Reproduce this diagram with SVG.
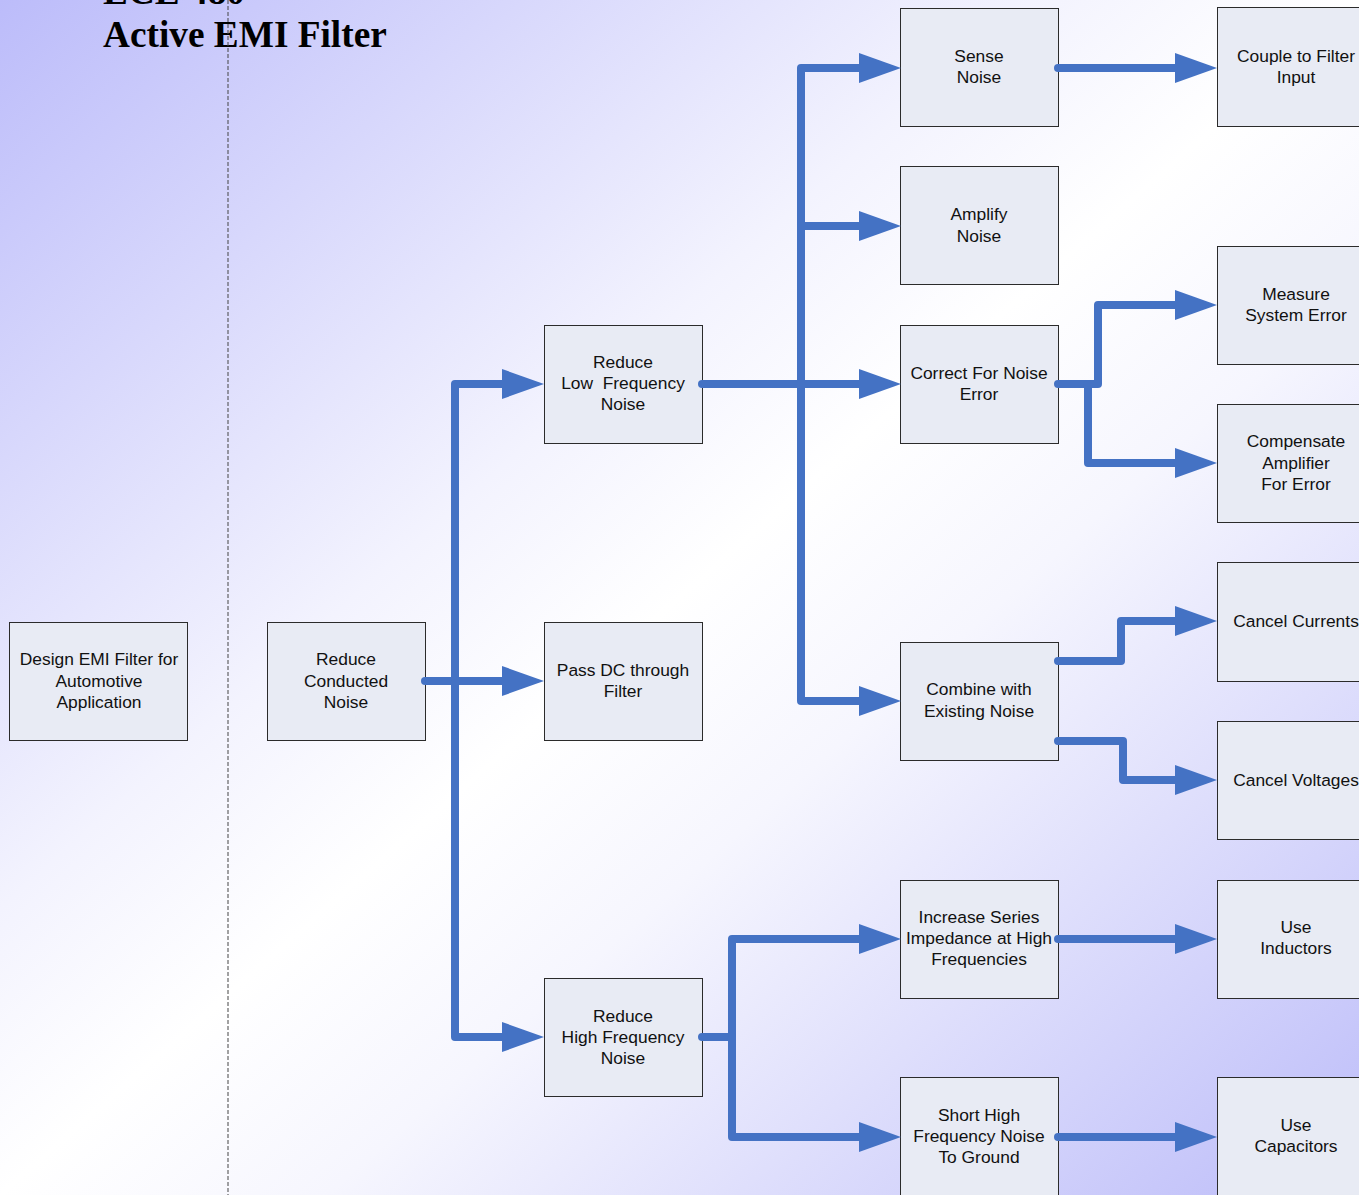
<svg xmlns="http://www.w3.org/2000/svg" width="1359" height="1195" viewBox="0 0 1359 1195">
  <defs>
    <linearGradient id="bg" x1="0" y1="0" x2="1" y2="1">
      <stop offset="0" stop-color="#bcbcfa"/>
      <stop offset="0.38" stop-color="#f3f3fe"/>
      <stop offset="0.5" stop-color="#ffffff"/>
      <stop offset="0.62" stop-color="#f6f6fe"/>
      <stop offset="1" stop-color="#bcbcf9"/>
    </linearGradient>
    <marker id="arrow" markerUnits="userSpaceOnUse" markerWidth="42" markerHeight="30" refX="12" refY="15" orient="auto">
      <path d="M0,0 L42,15 L0,30 Z" fill="#4472c4"/>
    </marker>
    <style>
      .box { fill: #e8ebf4; stroke: #2b2b2b; stroke-width: 1; }
      .lbl { font-family: "Liberation Sans", Arial, sans-serif; font-size: 17.4px; fill: #111; text-anchor: middle; }
      .title { font-family: "Liberation Serif", "Times New Roman", serif; font-size: 37.3px; font-weight: bold; fill: #000; }
      .wire { fill: none; stroke: #4472c4; stroke-width: 8; stroke-linecap: round; stroke-linejoin: round; }
    </style>
  </defs>

  <!-- background -->
  <rect x="0" y="0" width="1359" height="1195" fill="url(#bg)"/>

  <!-- title -->
  <text class="title" x="103" y="4">ECE 480</text>
  <text class="title" x="103" y="47">Active EMI Filter</text>

  <!-- level separator -->
  <line x1="228" y1="0" x2="228" y2="1195" stroke="#444" stroke-width="1" stroke-dasharray="4 2"/>

  <!-- nodes -->
  <g id="design-emi-filter">
    <rect class="box" x="9.5" y="622.5" width="178" height="118"/>
    <text class="lbl" x="99" y="665">Design EMI Filter for</text>
    <text class="lbl" x="99" y="687">Automotive</text>
    <text class="lbl" x="99" y="708">Application</text>
  </g>
  <g id="reduce-conducted-noise">
    <rect class="box" x="267.5" y="622.5" width="158" height="118"/>
    <text class="lbl" x="346" y="665">Reduce</text>
    <text class="lbl" x="346" y="687">Conducted</text>
    <text class="lbl" x="346" y="708">Noise</text>
  </g>
  <g id="reduce-low-frequency-noise">
    <rect class="box" x="544.5" y="325.5" width="158" height="118"/>
    <text class="lbl" x="623" y="368">Reduce</text>
    <text class="lbl" x="623" y="389" xml:space="preserve">Low  Frequency</text>
    <text class="lbl" x="623" y="410">Noise</text>
  </g>
  <g id="pass-dc">
    <rect class="box" x="544.5" y="622.5" width="158" height="118"/>
    <text class="lbl" x="623" y="676">Pass DC through</text>
    <text class="lbl" x="623" y="697">Filter</text>
  </g>
  <g id="reduce-high-frequency-noise">
    <rect class="box" x="544.5" y="978.5" width="158" height="118"/>
    <text class="lbl" x="623" y="1022">Reduce</text>
    <text class="lbl" x="623" y="1043">High Frequency</text>
    <text class="lbl" x="623" y="1064">Noise</text>
  </g>
  <g id="sense-noise">
    <rect class="box" x="900.5" y="8.5" width="158" height="118"/>
    <text class="lbl" x="979" y="62">Sense</text>
    <text class="lbl" x="979" y="83">Noise</text>
  </g>
  <g id="amplify-noise">
    <rect class="box" x="900.5" y="166.5" width="158" height="118"/>
    <text class="lbl" x="979" y="220">Amplify</text>
    <text class="lbl" x="979" y="242">Noise</text>
  </g>
  <g id="correct-noise-error">
    <rect class="box" x="900.5" y="325.5" width="158" height="118"/>
    <text class="lbl" x="979" y="379">Correct For Noise</text>
    <text class="lbl" x="979" y="400">Error</text>
  </g>
  <g id="combine-existing-noise">
    <rect class="box" x="900.5" y="642.5" width="158" height="118"/>
    <text class="lbl" x="979" y="695">Combine with</text>
    <text class="lbl" x="979" y="717">Existing Noise</text>
  </g>
  <g id="increase-series-impedance">
    <rect class="box" x="900.5" y="880.5" width="158" height="118"/>
    <text class="lbl" x="979" y="923">Increase Series</text>
    <text class="lbl" x="979" y="944">Impedance at High</text>
    <text class="lbl" x="979" y="965">Frequencies</text>
  </g>
  <g id="short-to-ground">
    <rect class="box" x="900.5" y="1077.5" width="158" height="120"/>
    <text class="lbl" x="979" y="1121">Short High</text>
    <text class="lbl" x="979" y="1142">Frequency Noise</text>
    <text class="lbl" x="979" y="1163">To Ground</text>
  </g>
  <g id="couple-filter-input">
    <rect class="box" x="1217.5" y="7.5" width="158" height="119"/>
    <text class="lbl" x="1296" y="62">Couple to Filter</text>
    <text class="lbl" x="1296" y="83">Input</text>
  </g>
  <g id="measure-system-error">
    <rect class="box" x="1217.5" y="246.5" width="158" height="118"/>
    <text class="lbl" x="1296" y="300">Measure</text>
    <text class="lbl" x="1296" y="321">System Error</text>
  </g>
  <g id="compensate-amplifier">
    <rect class="box" x="1217.5" y="404.5" width="158" height="118"/>
    <text class="lbl" x="1296" y="447">Compensate</text>
    <text class="lbl" x="1296" y="469">Amplifier</text>
    <text class="lbl" x="1296" y="490">For Error</text>
  </g>
  <g id="cancel-currents">
    <rect class="box" x="1217.5" y="562.5" width="158" height="119"/>
    <text class="lbl" x="1296" y="627">Cancel Currents</text>
  </g>
  <g id="cancel-voltages">
    <rect class="box" x="1217.5" y="721.5" width="158" height="118"/>
    <text class="lbl" x="1296" y="786">Cancel Voltages</text>
  </g>
  <g id="use-inductors">
    <rect class="box" x="1217.5" y="880.5" width="158" height="118"/>
    <text class="lbl" x="1296" y="933">Use</text>
    <text class="lbl" x="1296" y="954">Inductors</text>
  </g>
  <g id="use-capacitors">
    <rect class="box" x="1217.5" y="1077.5" width="158" height="120"/>
    <text class="lbl" x="1296" y="1131">Use</text>
    <text class="lbl" x="1296" y="1152">Capacitors</text>
  </g>

  <!-- connectors -->
  <g id="connectors" class="wires">
    <path class="wire" d="M425,681 H514" marker-end="url(#arrow)"/>
    <path class="wire" d="M455,681 V384 H514" marker-end="url(#arrow)"/>
    <path class="wire" d="M455,681 V1037 H514" marker-end="url(#arrow)"/>

    <path class="wire" d="M702,384 H871" marker-end="url(#arrow)"/>
    <path class="wire" d="M801,384 V68 H871" marker-end="url(#arrow)"/>
    <path class="wire" d="M801,384 V226 H871" marker-end="url(#arrow)"/>
    <path class="wire" d="M801,384 V701 H871" marker-end="url(#arrow)"/>

    <path class="wire" d="M702,1037 H732 V939 H871" marker-end="url(#arrow)"/>
    <path class="wire" d="M732,1037 V1137 H871" marker-end="url(#arrow)"/>

    <path class="wire" d="M1058,68 H1187" marker-end="url(#arrow)"/>
    <path class="wire" d="M1058,384 H1098 V305 H1187" marker-end="url(#arrow)"/>
    <path class="wire" d="M1088,384 V463 H1187" marker-end="url(#arrow)"/>
    <path class="wire" d="M1058,661 H1121 V621 H1187" marker-end="url(#arrow)"/>
    <path class="wire" d="M1058,741 H1123 V780 H1187" marker-end="url(#arrow)"/>
    <path class="wire" d="M1058,939 H1187" marker-end="url(#arrow)"/>
    <path class="wire" d="M1058,1137 H1187" marker-end="url(#arrow)"/>
  </g>
</svg>
